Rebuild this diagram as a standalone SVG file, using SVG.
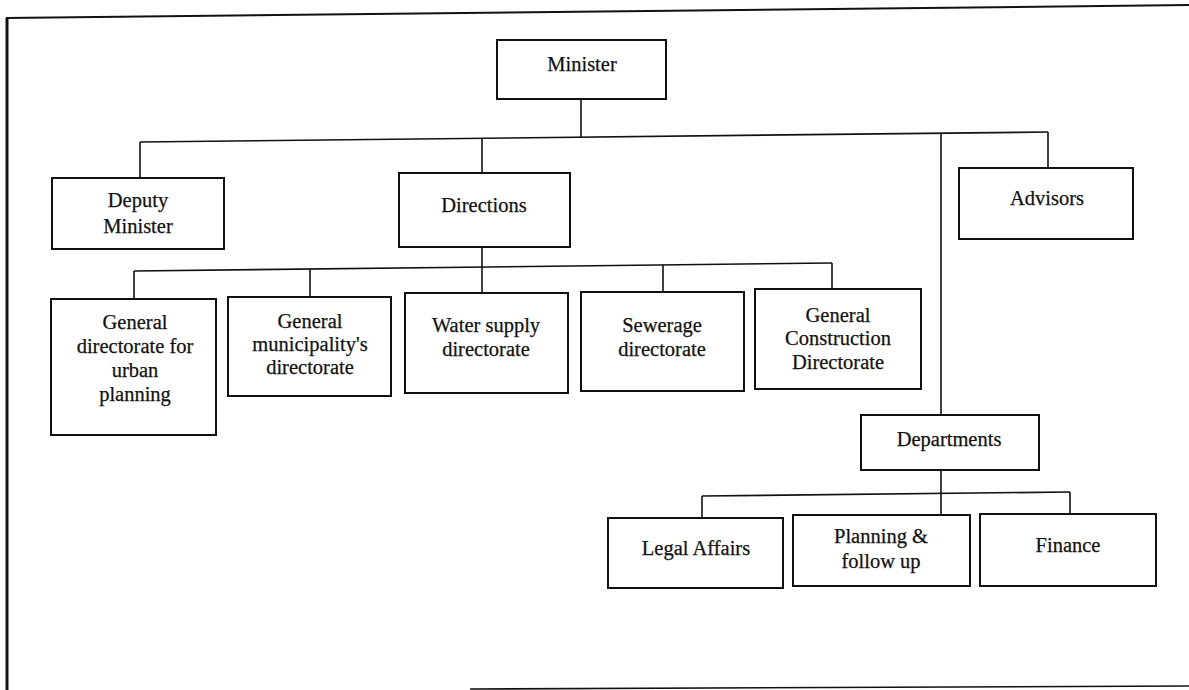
<svg xmlns="http://www.w3.org/2000/svg" width="1189" height="690" viewBox="0 0 1189 690">
  <style>
    .box { fill: #ffffff; stroke: #111111; stroke-width: 2; }
    .lbl { font-family: "Liberation Serif", "Times New Roman", serif; font-size: 20.5px; fill: #111111; stroke: #111111; stroke-width: 0.25; text-anchor: middle; }
    .conn { fill: none; stroke: #111111; stroke-width: 1.6; }
    .frame { fill: none; stroke: #111111; }
  </style>
  <rect width="1189" height="690" fill="#ffffff"/>

  <!-- page frame -->
  <g id="frame">
    <line class="frame" x1="7" y1="18" x2="7" y2="690" stroke-width="3"/>
    <line class="frame" x1="6" y1="18" x2="1189" y2="5" stroke-width="2"/>
    <line class="frame" x1="470" y1="689" x2="1189" y2="686" stroke-width="1.6" stroke="#333333"/>
  </g>

  <!-- connectors -->
  <g id="connectors">
    <line class="conn" x1="581" y1="99" x2="581" y2="137"/>
    <line class="conn" x1="140" y1="142" x2="1048" y2="132"/>
    <line class="conn" x1="140" y1="142" x2="140" y2="178"/>
    <line class="conn" x1="482" y1="138" x2="482" y2="173"/>
    <line class="conn" x1="941" y1="133" x2="941" y2="415"/>
    <line class="conn" x1="1048" y1="132" x2="1048" y2="168"/>

    <line class="conn" x1="482" y1="247" x2="482" y2="293"/>
    <line class="conn" x1="134" y1="271" x2="832" y2="263"/>
    <line class="conn" x1="134" y1="271" x2="134" y2="299"/>
    <line class="conn" x1="310" y1="269" x2="310" y2="297"/>
    <line class="conn" x1="663" y1="265" x2="663" y2="292"/>
    <line class="conn" x1="832" y1="263" x2="832" y2="289"/>

    <line class="conn" x1="941" y1="470" x2="941" y2="515"/>
    <line class="conn" x1="702" y1="496" x2="1070" y2="492"/>
    <line class="conn" x1="702" y1="496" x2="702" y2="518"/>
    <line class="conn" x1="1070" y1="492" x2="1070" y2="514"/>
  </g>

  <g id="minister">
    <rect class="box" x="497" y="40" width="169" height="59"/>
    <text class="lbl" x="582" y="71">Minister</text>
  </g>

  <g id="deputy-minister">
    <rect class="box" x="52" y="178" width="172" height="71"/>
    <text class="lbl" x="138" y="207">Deputy</text>
    <text class="lbl" x="138" y="233">Minister</text>
  </g>

  <g id="directions">
    <rect class="box" x="399" y="173" width="171" height="74"/>
    <text class="lbl" x="484" y="212">Directions</text>
  </g>

  <g id="advisors">
    <rect class="box" x="959" y="168" width="174" height="71"/>
    <text class="lbl" x="1047" y="205">Advisors</text>
  </g>

  <g id="urban-planning">
    <rect class="box" x="51" y="299" width="165" height="136"/>
    <text class="lbl" x="135" y="329">General</text>
    <text class="lbl" x="135" y="353">directorate for</text>
    <text class="lbl" x="135" y="377">urban</text>
    <text class="lbl" x="135" y="401">planning</text>
  </g>

  <g id="municipalities">
    <rect class="box" x="228" y="297" width="163" height="99"/>
    <text class="lbl" x="310" y="328">General</text>
    <text class="lbl" x="310" y="351">municipality's</text>
    <text class="lbl" x="310" y="374">directorate</text>
  </g>

  <g id="water-supply">
    <rect class="box" x="405" y="293" width="163" height="100"/>
    <text class="lbl" x="486" y="332">Water supply</text>
    <text class="lbl" x="486" y="356">directorate</text>
  </g>

  <g id="sewerage">
    <rect class="box" x="581" y="292" width="163" height="99"/>
    <text class="lbl" x="662" y="332">Sewerage</text>
    <text class="lbl" x="662" y="356">directorate</text>
  </g>

  <g id="construction">
    <rect class="box" x="755" y="289" width="166" height="100"/>
    <text class="lbl" x="838" y="322">General</text>
    <text class="lbl" x="838" y="345">Construction</text>
    <text class="lbl" x="838" y="369">Directorate</text>
  </g>

  <g id="departments">
    <rect class="box" x="861" y="415" width="178" height="55"/>
    <text class="lbl" x="949" y="446">Departments</text>
  </g>

  <g id="legal-affairs">
    <rect class="box" x="608" y="518" width="175" height="70"/>
    <text class="lbl" x="696" y="555">Legal Affairs</text>
  </g>

  <g id="planning-follow-up">
    <rect class="box" x="793" y="515" width="177" height="71"/>
    <text class="lbl" x="881" y="543">Planning &amp;</text>
    <text class="lbl" x="881" y="568">follow up</text>
  </g>

  <g id="finance">
    <rect class="box" x="980" y="514" width="176" height="72"/>
    <text class="lbl" x="1068" y="552">Finance</text>
  </g>
</svg>
